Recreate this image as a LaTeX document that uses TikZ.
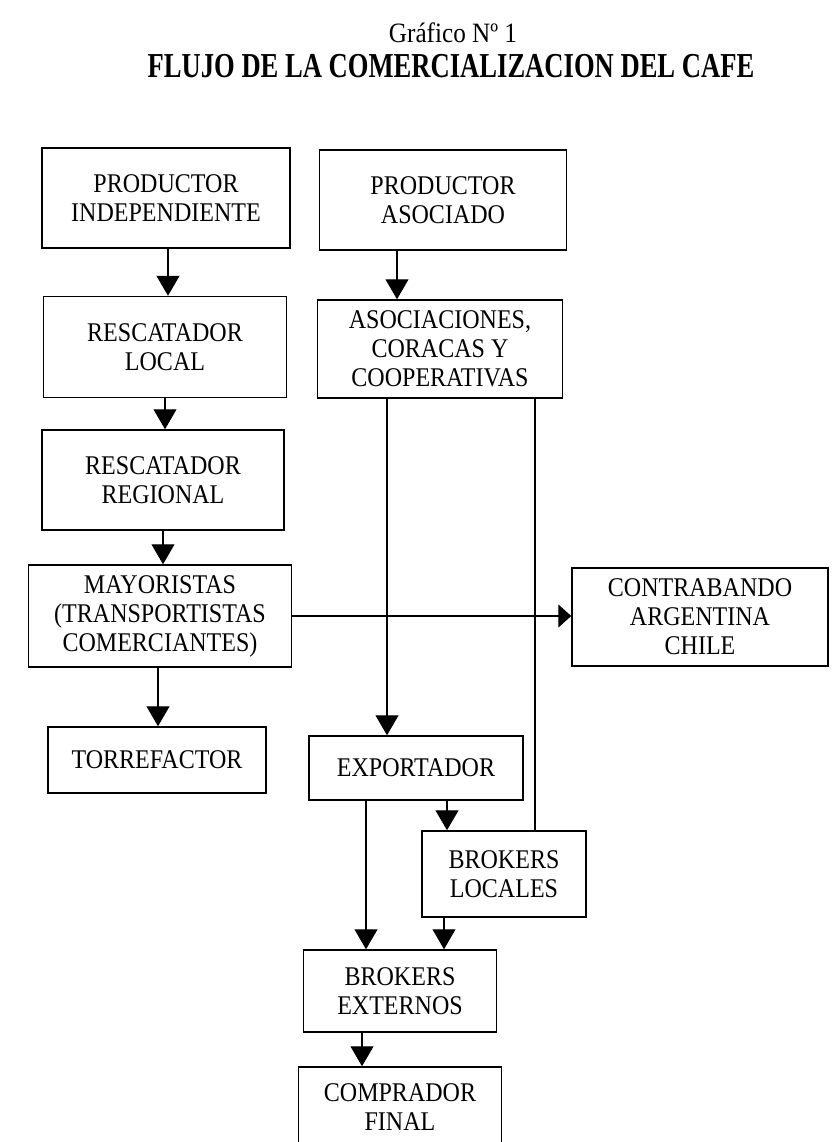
\documentclass[tikz,border=0pt]{standalone}
\usepackage{fontspec}
\setmainfont{Liberation Serif}[FakeStretch=0.89]
\newfontfamily\titulofont{Liberation Serif}[FakeStretch=0.76]
\newfontfamily\graficofont{Liberation Serif}[FakeStretch=0.9]
\usetikzlibrary{arrows.meta}

\begin{document}
\begin{tikzpicture}[x=1pt, y=-1pt,
  caja/.style={draw, line width=1.5pt, align=center, inner sep=0pt,
    font=\fontsize{27}{29}\selectfont},
  flecha/.style={line width=1.1pt, -{Triangle[length=20pt,width=23pt]}},
  linea/.style={line width=1.1pt}]
% size of the scanned page
\useasboundingbox (0,0) rectangle (833,1142);

\node[anchor=base, font=\graficofont\fontsize{28}{30}\selectfont] (grafico) at (453,43) {Gráfico Nº 1};
\node[anchor=base, font=\titulofont\bfseries\fontsize{35}{37}\selectfont] (titulo) at (451,78)
  {FLUJO DE LA COMERCIALIZACION DEL CAFE};

\foreach \nom/\x/\y/\w/\h/\txt in {
    pi/166/198/248/100/{PRODUCTOR\\INDEPENDIENTE},
    pa/443/200/247/100/{PRODUCTOR\\ASOCIADO},
    rl/165/347/243/101/{RESCATADOR\\LOCAL},
    acc/440/349/245/98/{ASOCIACIONES,\\CORACAS Y\\COOPERATIVAS},
    rr/163/480/242/100/{RESCATADOR\\REGIONAL},
    may/160/616/263/102/{MAYORISTAS\\(TRANSPORTISTAS\\COMERCIANTES)},
    con/700/617/256/98/{CONTRABANDO\\ARGENTINA\\CHILE},
    tor/157/760/218/66/{TORREFACTOR},
    exp/416/768/214/64/{EXPORTADOR},
    bl/504/874/164/86/{BROKERS\\LOCALES},
    be/400/991/193/82/{BROKERS\\EXTERNOS},
    cf/400/1107/203/80/{COMPRADOR\\FINAL}}
  \node[caja, minimum width=\w, minimum height=\h] (\nom) at (\x,\y) {\txt};

% vertical arrows, one column each
\foreach \a/\b/\k in {pi/rl/168, pa/acc/397, rl/rr/165, rr/may/163, may/tor/158,
    acc/exp/387, exp/be/366, exp/bl/447, bl/be/444, be/cf/362}
  {
  \coordinate (col) at (\k,0);
  \draw[flecha] (\a.south -| col) -- (\b.north -| col);
  }
\coordinate (col) at (535,0);
\draw[linea] (acc.south -| col) -- (bl.north -| col);
\draw[line width=1.1pt, -{Triangle[length=13pt,width=23pt]}] (may.east) -- (may.east -| con.west);

\end{tikzpicture}
\end{document}
